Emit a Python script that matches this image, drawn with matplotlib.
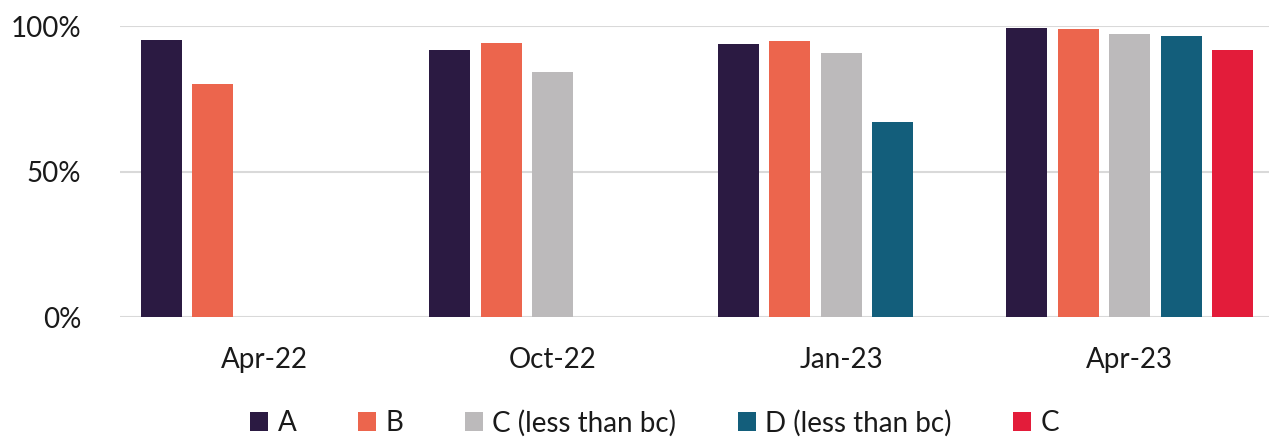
import matplotlib
matplotlib.use("Agg")
import matplotlib.pyplot as plt
import matplotlib.patches as mpatches
import numpy as np

# data
periods = ["Apr-22", "Oct-22", "Jan-23", "Apr-23"]
series = ["A", "B", "C (less than bc)", "D (less than bc)", "C"]
vals_a = [95.3, 91.8, 93.9, 99.4]
vals_b = [80.2, 94.2, 94.8, 99.2]
vals_c = [np.nan, 84.3, 90.8, 97.3]
vals_d = [np.nan, np.nan, 67.2, 96.7]
vals_e = [np.nan, np.nan, np.nan, 91.9]
colors = ["#2B1A42", "#EC654D", "#BCBABB", "#135E7B", "#E31C3A"]

plt.rcParams['font.family'] = ['Lato', 'DejaVu Sans']

fig = plt.figure(figsize=(12.69, 4.37), dpi=100, facecolor='white')
ax = fig.add_axes([120 / 1269, 0.2735, 1 - 120 / 1269, 0.9398 - 0.2735])

x = np.arange(len(periods))
slot = 0.1785
width = 0.142
all_vals = [vals_a, vals_b, vals_c, vals_d, vals_e]
for k, (vals, col) in enumerate(zip(all_vals, colors)):
    ax.bar(x + (k - 2) * slot, np.array(vals) / 100, width=width, color=col,
           zorder=3, clip_on=False)

ax.set_xlim(-0.5, 3.482)
ax.set_ylim(0, 1.0)
ax.set_yticks([0, 0.5, 1.0])
ax.set_yticklabels(["0%", "50%", "100%"])
ax.set_xticks(x)
ax.set_xticklabels(periods)
ax.tick_params(axis='y', length=0, pad=28, labelsize=20, labelcolor='#1a1a1a')
ax.tick_params(axis='x', length=0, pad=21, labelsize=20, labelcolor='#1a1a1a')
ax.grid(True, axis='y', color='#d9d9d9', linewidth=1.5, zorder=0)
for s in ['top', 'right', 'left', 'bottom']:
    ax.spines[s].set_visible(False)

handles = [mpatches.Patch(facecolor=c, edgecolor='none', label=l)
           for c, l in zip(colors, series)]
fig.legend(handles=handles, loc='center', bbox_to_anchor=(0.516, 0.032),
           ncol=5, frameon=False, fontsize=20, handlelength=0.65,
           handleheight=0.65, handletextpad=0.35, columnspacing=2.2,
           labelcolor='#1a1a1a')

fig.savefig("out.png", dpi=100, facecolor='white')
